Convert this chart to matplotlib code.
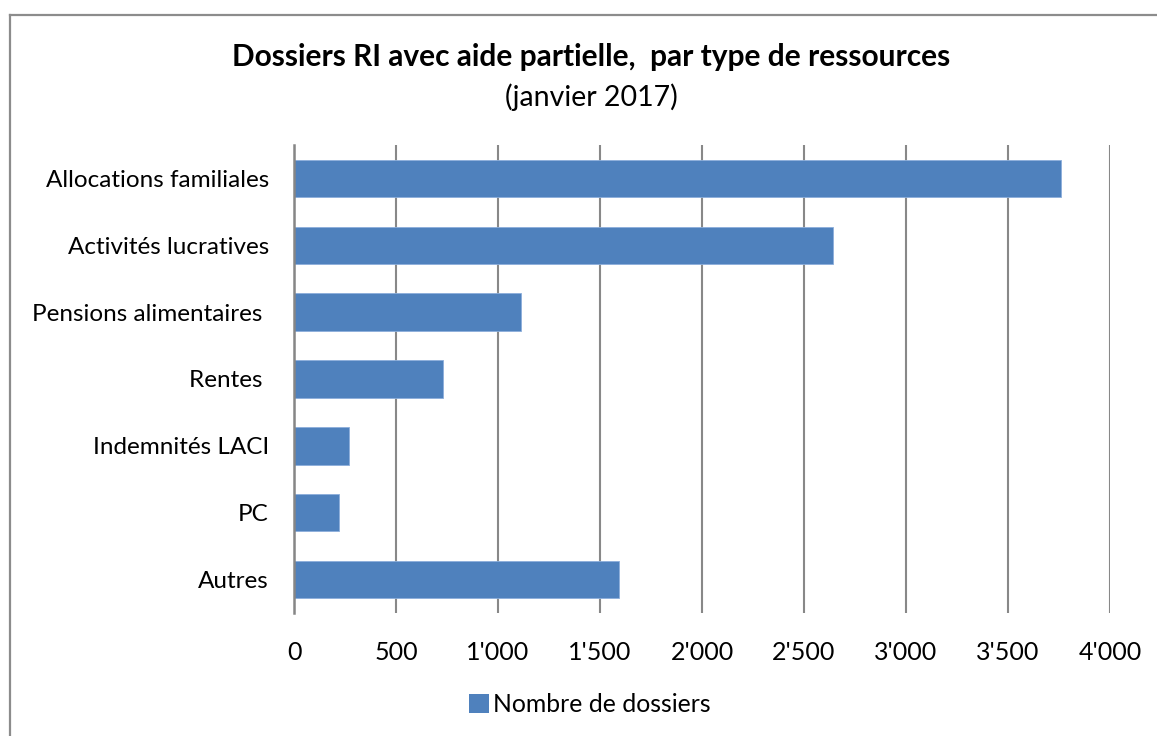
import matplotlib
matplotlib.use("Agg")
import matplotlib.pyplot as plt
from matplotlib.patches import Patch
from matplotlib.lines import Line2D
from matplotlib.ticker import FuncFormatter

categories = ["Allocations familiales", "Activités lucratives", "Pensions alimentaires ",
              "Rentes ", "Indemnités LACI", "PC", "Autres"]
values = [3760, 2644, 1113, 732, 271, 222, 1595]
series_name = "Nombre de dossiers"
title = "Dossiers RI avec aide partielle,  par type de ressources"
subtitle = "(janvier 2017)"

plt.rcParams['font.family'] = ['Lato', 'DejaVu Sans']

W, H = 1157, 736
fig = plt.figure(figsize=(W / 100, H / 100), dpi=100)
ax = fig.add_axes([294 / W, 1 - 613 / H, 816 / W, 468 / H])

ypos = list(range(len(categories)))
ax.barh(ypos, values, height=0.56, color="#4F81BD", edgecolor="#8CAEDB", linewidth=0.6, zorder=3)
ax.set_xlim(0, 4000)
ax.set_ylim(len(categories) - 0.5, -0.5)
ax.set_yticks(ypos)
ax.set_yticklabels(categories, fontsize=17.5)
ax.set_xticks(range(0, 4001, 500))
ax.xaxis.set_major_formatter(FuncFormatter(lambda v, p: f"{int(v):,}".replace(",", "'")))
ax.tick_params(axis='x', labelsize=18, length=0, pad=20)
ax.tick_params(axis='y', length=0, pad=18)
ax.grid(axis='x', color="#888888", linewidth=1.5, zorder=0)
for s in ["top", "right", "bottom"]:
    ax.spines[s].set_visible(False)
ax.spines["left"].set_color("#868686")
ax.spines["left"].set_linewidth(1.8)
ax.spines["left"].set_zorder(4)

fig.text(591 / W, 1 - 57 / H, title, ha="center", va="center", fontsize=21.5, fontweight="bold")
fig.text(591 / W, 1 - 97 / H, subtitle, ha="center", va="center", fontsize=20.5)

fig.legend(handles=[Patch(facecolor="#4F81BD", edgecolor="none", label=series_name)],
           loc="center", bbox_to_anchor=(590 / W, 1 - 705 / H), frameon=False,
           fontsize=17.8, handlelength=0.8, handleheight=0.8, handletextpad=0.15)

# outer chart-area border (top and left visible)
fig.add_artist(Line2D([10 / W, 10 / W], [0, 1 - 15 / H], transform=fig.transFigure, color="#8C8C8C", linewidth=1.6))
fig.add_artist(Line2D([10 / W, 1], [1 - 15 / H, 1 - 15 / H], transform=fig.transFigure, color="#8C8C8C", linewidth=1.6))

fig.savefig("out.png", dpi=100)
